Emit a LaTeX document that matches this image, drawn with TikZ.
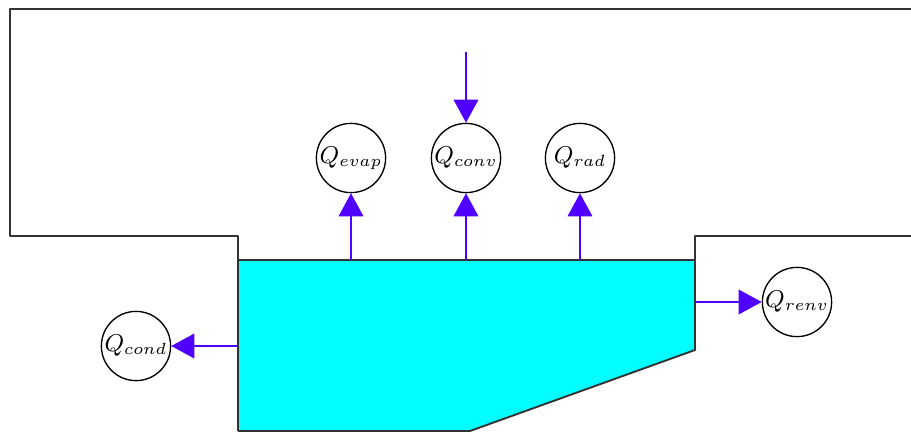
\documentclass[tikz,border=0pt]{standalone}
\usepackage{amsmath}
\usepackage{tikz}
\usetikzlibrary{arrows.meta}
\definecolor{my_outline}{HTML}{333333}
\definecolor{my_water}{HTML}{00FFFF}
\definecolor{my_flow}{HTML}{5000FF}

\begin{document}
\begin{tikzpicture}[
    x=0.013cm, y=0.013cm,
    heat/.style={circle, draw=black, line width=0.5pt, minimum size=0.9cm, inner sep=0pt, font=\small},
    flow/.style={my_flow, line width=0.9pt, -{Triangle[length=8.5pt, width=9pt]}}
]

% Units: 1 unit = 0.13 mm, origin at the lower left corner
\useasboundingbox (0,0) rectangle (911,431);

% Pool basin (water body)
\filldraw[fill=my_water, draw=my_outline, line width=0.7pt, line join=round]
    (238,171) -- (695,171) -- (695,81) -- (470,0) -- (238,0);

% Surrounding walls and air volume
\draw[my_outline, line width=0.8pt, line join=round]
    (238,0) -- (238,195) -- (10,195) -- (10,422) -- (911,422);
\draw[my_outline, line width=0.8pt, line join=round]
    (695,171) -- (695,195) -- (911,195);

% Heat flow nodes
\node[heat] (evap) at (351,273) {$Q_{evap}$};
\node[heat] (conv) at (466,273) {$Q_{conv}$};
\node[heat] (rad)  at (580,273) {$Q_{rad}$};
\node[heat] (cond) at (136,85)  {$Q_{cond}$};
\node[heat] (renv) at (797,129) {$Q_{renv}$};

% Start points of the flows on the pool boundary
\coordinate (evapsrc) at (351,171);
\coordinate (convsrc) at (466,171);
\coordinate (radsrc)  at (580,171);
\coordinate (condsrc) at (238,85);
\coordinate (renvsrc) at (695,129);
\coordinate (airsrc)  at (466,379);

% Heat flows
\draw[flow] (evapsrc) -- (evap);
\draw[flow] (convsrc) -- (conv);
\draw[flow] (radsrc)  -- (rad);
\draw[flow] (airsrc)  -- (conv);
\draw[flow] (condsrc) -- (cond);
\draw[flow] (renvsrc) -- (renv);

\end{tikzpicture}
\end{document}
